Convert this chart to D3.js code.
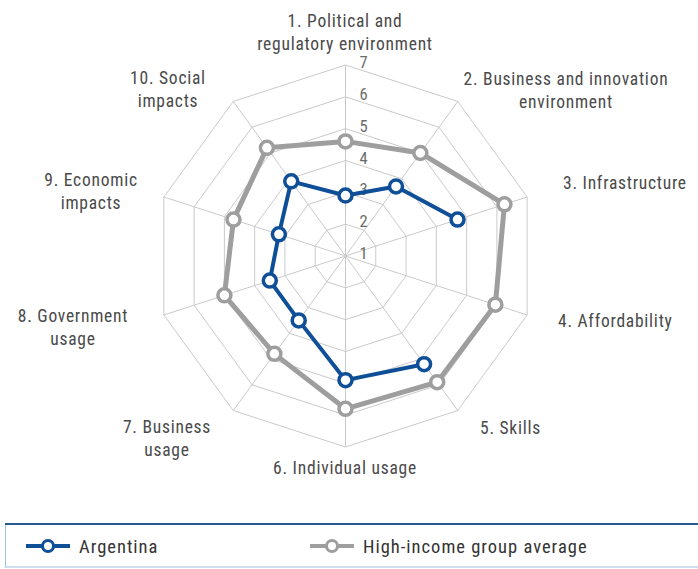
<!DOCTYPE html>
<html>
<head>
<meta charset="utf-8">
<script src="https://d3js.org/d3.v7.min.js"></script>
<style>
  body { margin: 0; background: #fff; }
  svg { display: block; }
  text { font-family: "Liberation Sans Narrow", "Arial Narrow", "Roboto Condensed", "Liberation Sans", sans-serif; }
</style>
</head>
<body>
<script>
// pillar names (split in lines as in the figure)
var axes = [
  ["1. Political and", "regulatory environment"],
  ["2. Business and innovation", "environment"],
  ["3. Infrastructure"],
  ["4. Affordability"],
  ["5. Skills"],
  ["6. Individual usage"],
  ["7. Business", "usage"],
  ["8. Government", "usage"],
  ["9. Economic", "impacts"],
  ["10. Social", "impacts"]
];
var argentina = [2.9, 3.7, 4.7, null, 5.2, 4.9, 3.5, 3.5, 3.2, 3.9];
var highIncome = [4.6, 5.0, 6.25, 5.95, 5.9, 5.8, 4.8, 5.0, 4.7, 5.2];
var ticks = [1, 2, 3, 4, 5, 6, 7];

var W = 698, H = 569, cx = 345.5, cy = 256;
var blue = "#0f4f98", gray = "#9e9e9e";

var svg = d3.select("body").append("svg").attr("width", W).attr("height", H);

var r = d3.scaleLinear().domain([1, 7]).range([0, 191]);
var angle = d3.scaleLinear().domain([0, axes.length]).range([0, 2 * Math.PI]);

function pt(i, v) {
  var a = angle(i);
  return [cx + r(v) * Math.sin(a), cy - r(v) * Math.cos(a)];
}

var g = svg.append("g");

// rings
ticks.slice(1).forEach(function(t) {
  g.append("polygon")
    .attr("points", axes.map(function(d, i) { return pt(i, t).join(","); }).join(" "))
    .attr("fill", "none")
    .attr("stroke", "#cacaca")
    .attr("stroke-width", 1);
});
// spokes
axes.forEach(function(d, i) {
  var p = pt(i, 7);
  g.append("line")
    .attr("x1", cx).attr("y1", cy).attr("x2", p[0]).attr("y2", p[1])
    .attr("stroke", "#cacaca").attr("stroke-width", 1);
});

// tick labels
g.selectAll(".tick").data(ticks).enter().append("text")
  .attr("x", cx + 14)
  .attr("y", function(d) { return cy - r(d) + 3; })
  .attr("font-size", 16.5)
  .attr("fill", "#6b6b6b")
  .text(function(d) { return d; });

// axis labels: [x, y of first baseline, anchor]
var labelPos = [
  [345, 27, "middle"], [566, 85, "middle"], [563, 189, "start"], [558, 327, "start"],
  [480, 434, "start"], [345, 474, "middle"], [167, 433, "middle"], [73, 322, "middle"],
  [91, 186, "middle"], [168, 84, "middle"]
];
axes.forEach(function(lines, i) {
  var t = g.append("text")
    .attr("x", labelPos[i][0]).attr("y", labelPos[i][1])
    .attr("text-anchor", labelPos[i][2])
    .attr("font-size", 17.5)
    .attr("letter-spacing", 0.75)
    .attr("fill", "#4a4a4a");
  lines.forEach(function(s, j) {
    t.append("tspan").attr("x", labelPos[i][0]).attr("dy", j ? 23 : 0).text(s);
  });
});

var line = d3.line()
  .defined(function(d) { return d.v != null; })
  .x(function(d) { return pt(d.i, d.v)[0]; })
  .y(function(d) { return pt(d.i, d.v)[1]; });

function series(vals, color, w) {
  var data = vals.map(function(v, i) { return { i: i, v: v }; });
  var closed = data.concat([data[0]]);
  g.append("path")
    .datum(closed)
    .attr("d", line)
    .attr("fill", "none")
    .attr("stroke", color)
    .attr("stroke-width", w)
    .attr("stroke-linejoin", "round");
  g.selectAll(null).data(data.filter(function(d) { return d.v != null; })).enter()
    .append("circle")
    .attr("cx", function(d) { return pt(d.i, d.v)[0]; })
    .attr("cy", function(d) { return pt(d.i, d.v)[1]; })
    .attr("r", 6.5)
    .attr("fill", "#fff")
    .attr("stroke", color)
    .attr("stroke-width", 3.5);
}
series(highIncome, gray, 5);
series(argentina, blue, 4);

// legend
var lg = svg.append("g");
lg.append("rect")
  .attr("x", 5.5).attr("y", 524.5).attr("width", 700).attr("height", 42.5)
  .attr("fill", "#fff").attr("stroke", "#9fc3e3").attr("stroke-width", 1);
lg.append("line")
  .attr("x1", 5).attr("x2", W).attr("y1", 524).attr("y2", 524)
  .attr("stroke", "#26598f").attr("stroke-width", 2);

var legendItems = [
  { name: "Argentina", color: blue, x: 26 },
  { name: "High-income group average", color: gray, x: 310 }
];
legendItems.forEach(function(d) {
  lg.append("line")
    .attr("x1", d.x).attr("x2", d.x + 44).attr("y1", 546).attr("y2", 546)
    .attr("stroke", d.color).attr("stroke-width", 4);
  lg.append("circle")
    .attr("cx", d.x + 22).attr("cy", 546).attr("r", 5.5)
    .attr("fill", "#fff").attr("stroke", d.color).attr("stroke-width", 3);
  lg.append("text")
    .attr("x", d.x + 53).attr("y", 553)
    .attr("font-size", 18.5).attr("letter-spacing", 1).attr("fill", "#333")
    .text(d.name);
});
</script>
</body>
</html>
